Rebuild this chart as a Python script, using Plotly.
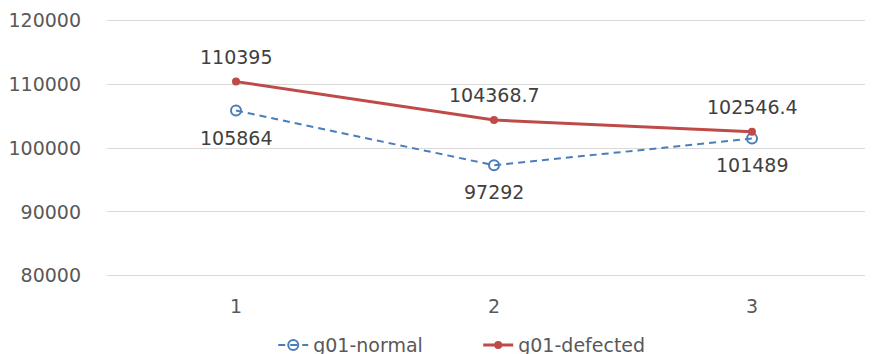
import plotly.graph_objects as go

categories = [1, 2, 3]
normal = [105864, 97292, 101489]
defected = [110395, 104368.7, 102546.4]
normal_labels = ["105864", "97292", "101489"]
defected_labels = ["110395", "104368.7", "102546.4"]
y_ticks = [80000, 90000, 100000, 110000, 120000]

BLUE = "#4A7EBB"
RED = "#BE4B48"
FONT = "DejaVu Sans"

fig = go.Figure()
fig.add_trace(go.Scatter(
    x=categories, y=normal, name="g01-normal", mode="lines+markers",
    line=dict(color=BLUE, width=2, dash="7px,5px"),
    marker=dict(symbol="circle-open", size=10, color=BLUE, line=dict(width=2, color=BLUE)),
))
fig.add_trace(go.Scatter(
    x=categories, y=defected, name="g01-defected", mode="lines+markers",
    line=dict(color=RED, width=3),
    marker=dict(symbol="circle", size=8, color=RED),
))

for x, y, t in zip(categories, defected, defected_labels):
    fig.add_annotation(x=x, y=y, text=t, showarrow=False, yshift=25,
                       font=dict(family=FONT, size=19, color="#404040"))
for x, y, t in zip(categories, normal, normal_labels):
    fig.add_annotation(x=x, y=y, text=t, showarrow=False, yshift=-27,
                       font=dict(family=FONT, size=19, color="#404040"))

fig.update_layout(
    width=865, height=346,
    margin=dict(l=99, r=0, t=11, b=77, autoexpand=False),
    paper_bgcolor="white", plot_bgcolor="white",
    font=dict(family=FONT, size=19, color="#595959"),
    showlegend=True,
    legend=dict(orientation="h", x=0.217, xanchor="left", y=-0.264, yanchor="middle",
                entrywidth=160, entrywidthmode="pixels",
                font=dict(family=FONT, size=19, color="#595959")),
    xaxis=dict(range=[0.5, 3.469], tickvals=categories, ticktext=[str(c) for c in categories],
               showgrid=False, zeroline=False, showline=False, ticks="", automargin=False,
               ticklabelstandoff=16, tickfont=dict(size=19)),
    yaxis=dict(range=[79800, 120200], tickvals=y_ticks, tickformat="d",
               showgrid=True, gridcolor="#D9D9D9", gridwidth=1, zeroline=False, automargin=False,
               showline=False, ticks="", ticklabelstandoff=25, tickfont=dict(size=19)),
)

fig.write_html("out.html")
